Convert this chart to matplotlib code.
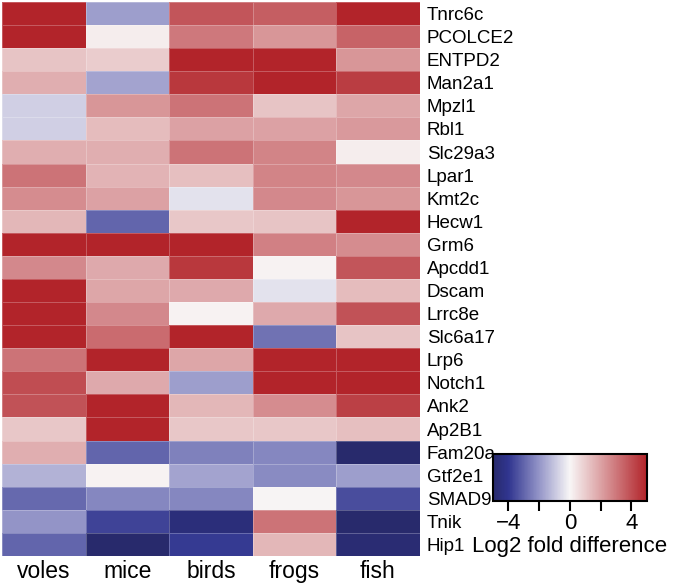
import numpy as np
import matplotlib
matplotlib.use("Agg")
import matplotlib.pyplot as plt
from matplotlib.colors import LinearSegmentedColormap

plt.rcParams['font.family'] = ['Liberation Sans', 'DejaVu Sans']

species = ["voles", "mice", "birds", "frogs", "fish"]
genes = ["Tnrc6c", "PCOLCE2", "ENTPD2", "Man2a1", "Mpzl1", "Rbl1", "Slc29a3",
         "Lpar1", "Kmt2c", "Hecw1", "Grm6", "Apcdd1", "Dscam", "Lrrc8e",
         "Slc6a17", "Lrp6", "Notch1", "Ank2", "Ap2B1", "Fam20a", "Gtf2e1",
         "SMAD9", "Tnik", "Hip1"]

# log2 fold difference, columns: voles, mice, birds, frogs, fish
voles = [5.0, 5.0, 1.2, 1.7, -0.8, -0.8, 1.7, 3.1, 2.5, 1.5, 5.0, 2.6,
         5.0, 5.0, 5.0, 3.1, 4.0, 3.9, 1.1, 1.7, -1.4, -2.9, -2.0, -3.0]
mice = [-1.8, 0.2, 1.0, -1.7, 2.3, 1.4, 1.7, 1.6, 2.0, -3.0, 5.0, 1.8,
        1.9, 2.6, 3.3, 5.0, 1.8, 5.0, 5.0, -3.0, 0.1, -2.3, -3.7, -5.0]
birds = [3.8, 3.0, 5.0, 4.5, 3.1, 2.0, 3.1, 1.3, -0.4, 1.1, 5.0, 4.5,
         1.8, 0.1, 5.0, 1.9, -1.8, 1.5, 1.1, -2.4, -1.7, -2.3, -4.6, -3.9]
frogs = [3.6, 2.3, 5.0, 5.0, 1.2, 2.0, 2.7, 2.7, 2.6, 1.2, 2.8, 0.1,
         -0.4, 1.8, -2.7, 5.0, 5.0, 2.5, 1.1, -2.3, -2.2, 0.05, 3.1, 1.5]
fish = [5.0, 3.5, 2.3, 4.4, 1.9, 2.2, 0.2, 2.6, 2.3, 5.0, 2.5, 3.8,
        1.4, 3.9, 1.2, 5.0, 5.0, 4.3, 1.3, -5.0, -1.8, -3.5, -5.0, -4.8]

data = np.array([voles, mice, birds, frogs, fish]).T

cmap = LinearSegmentedColormap.from_list(
    "bwr_custom",
    [(0.0, "#282a6c"), (0.1, "#30358f"), (0.3, "#9495c8"),
     (0.5, "#f8f6f6"), (1.0, "#b2242a")])

fig = plt.figure(figsize=(6.77, 5.85), dpi=100)
ax = fig.add_axes([0.003, 0.0496, 0.617, 0.947])
mesh = ax.pcolormesh(data, cmap=cmap, vmin=-5, vmax=5,
                     edgecolors=(1, 1, 1, 0.25), linewidth=0.5)
ax.set_ylim(len(genes), 0)
ax.set_xlim(0, len(species))

ax.set_xticks(np.arange(len(species)) + 0.5)
ax.set_xticklabels(species, fontsize=16.5)
ax.set_yticks(np.arange(len(genes)) + 0.5)
ax.set_yticklabels(genes, fontsize=13.5)
ax.yaxis.tick_right()
ax.tick_params(axis='both', length=0)
ax.tick_params(axis='y', pad=5)
ax.tick_params(axis='x', pad=3)
for s in ax.spines.values():
    s.set_visible(False)

cax = fig.add_axes([0.728, 0.1436, 0.2275, 0.0803])
cb = fig.colorbar(mesh, cax=cax, orientation='horizontal')
cb.set_ticks([-4, -2, 0, 2, 4])
cb.set_ticklabels(["\u22124", "", "0", "", "4"])
cax.tick_params(length=7, width=1.5, labelsize=16, pad=2)
cb.outline.set_linewidth(1.5)
cb.set_label("Log2 fold difference", fontsize=16, labelpad=1)

fig.savefig("out.png", dpi=100)
